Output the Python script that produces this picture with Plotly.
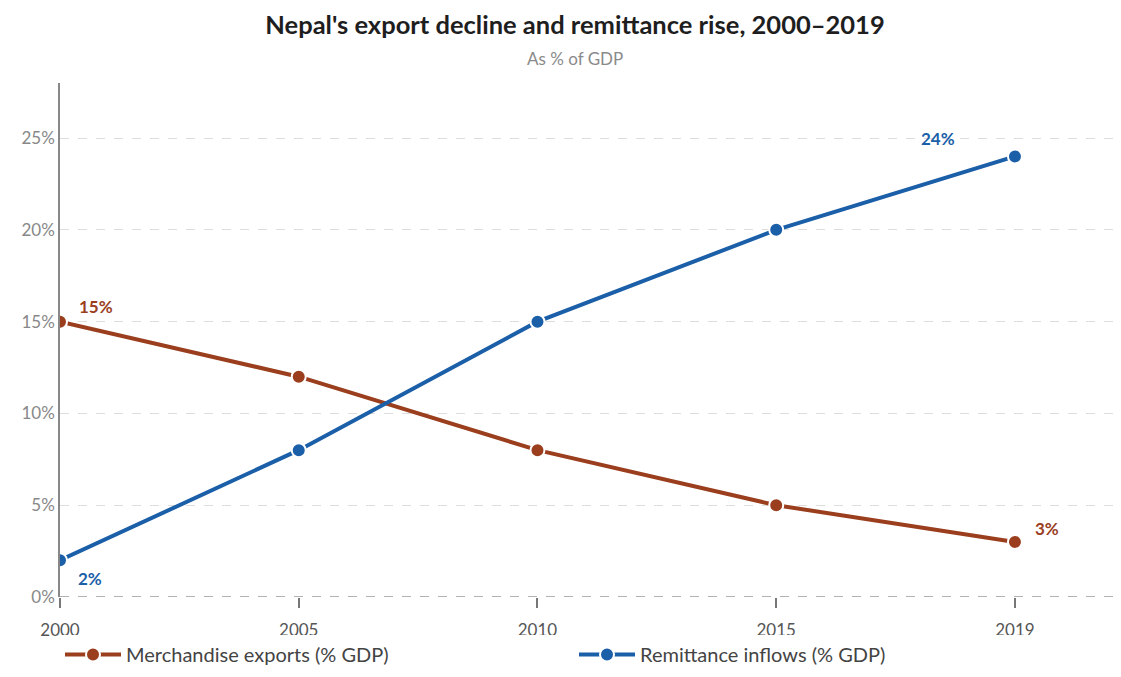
import plotly.graph_objects as go

years = ["2000", "2005", "2010", "2015", "2019"]
exports = [15, 12, 8, 5, 3]
remittance = [2, 8, 15, 20, 24]
y_ticks = [0, 5, 10, 15, 20, 25]
y_tick_labels = ["0%", "5%", "10%", "15%", "20%", "25%"]

brown = "#9a3e1e"
blue = "#1b5fa8"
font_family = "Lato, 'Open Sans', sans-serif"

xpos = list(range(len(years)))

fig = go.Figure()
fig.add_trace(go.Scatter(
    x=xpos, y=exports, mode="lines+markers", name="Merchandise exports (% GDP)",
    line=dict(color=brown, width=4),
    marker=dict(size=14, color=brown, line=dict(color="white", width=2)),
))
fig.add_trace(go.Scatter(
    x=xpos, y=remittance, mode="lines+markers", name="Remittance inflows (% GDP)",
    line=dict(color=blue, width=4),
    marker=dict(size=14, color=blue, line=dict(color="white", width=2)),
))

labels = [
    (xpos[0], exports[0], brown, 36, 15),
    (xpos[-1], exports[-1], brown, 32, 13),
    (xpos[0], remittance[0], blue, 30, -18),
    (xpos[-1], remittance[-1], blue, -77, 18),
]
for x, y, c, dx, dy in labels:
    fig.add_annotation(x=x, y=y, xref="x", yref="y", text=f"{y}%", showarrow=False,
                       xshift=dx, yshift=dy,
                       font=dict(family=font_family, size=17, color=c, weight="bold"))

fig.add_annotation(text="As % of GDP", xref="paper", yref="paper", x=(575 - 60) / 1060, y=1.0,
                   yshift=83 - 58, showarrow=False, yanchor="middle",
                   font=dict(family=font_family, size=17, color="#8a8a8a"))

fig.add_shape(type="line", xref="paper", yref="y", x0=0, x1=1, y0=0, y1=0,
              line=dict(color="#999999", width=1.5, dash="dash"), layer="above")

fig.update_layout(
    width=1121, height=677,
    paper_bgcolor="white", plot_bgcolor="white",
    margin=dict(l=60, r=1, t=83, b=80),
    title=dict(text="Nepal's export decline and remittance rise, 2000–2019",
               x=575 / 1121, xanchor="center", y=1 - 25 / 677, yanchor="middle",
               font=dict(family=font_family, size=25.5, color="#1e1e1e", weight="bold")),
    showlegend=True,
    legend=dict(orientation="h", x=0.0, xanchor="left", y=-77 / 514, yanchor="bottom",
                entrywidth=443, entrywidthmode="pixels", itemwidth=56,
                font=dict(family=font_family, size=20, color="#444444")),
    font=dict(family=font_family),
)
fig.update_xaxes(range=[0, 4.44], tickvals=xpos, ticktext=years, showgrid=False,
                 zeroline=False, showline=False, ticks="outside", ticklen=10,
                 tickcolor="#777777", tickwidth=1.5, automargin=False,
                 ticklabelstandoff=8, tickfont=dict(size=17, color="#555555"))
fig.update_yaxes(range=[0, 28], tickvals=y_ticks, ticktext=y_tick_labels,
                 showgrid=True, gridcolor="#dddddd", griddash="dash", gridwidth=1,
                 zeroline=False, showline=True, linecolor="#888888", linewidth=1.5,
                 ticks="", automargin=False, tickfont=dict(size=17, color="#888888"))

fig.write_html("out.html", config={"displayModeBar": False},
               post_script="document.body.style.margin='0';")
